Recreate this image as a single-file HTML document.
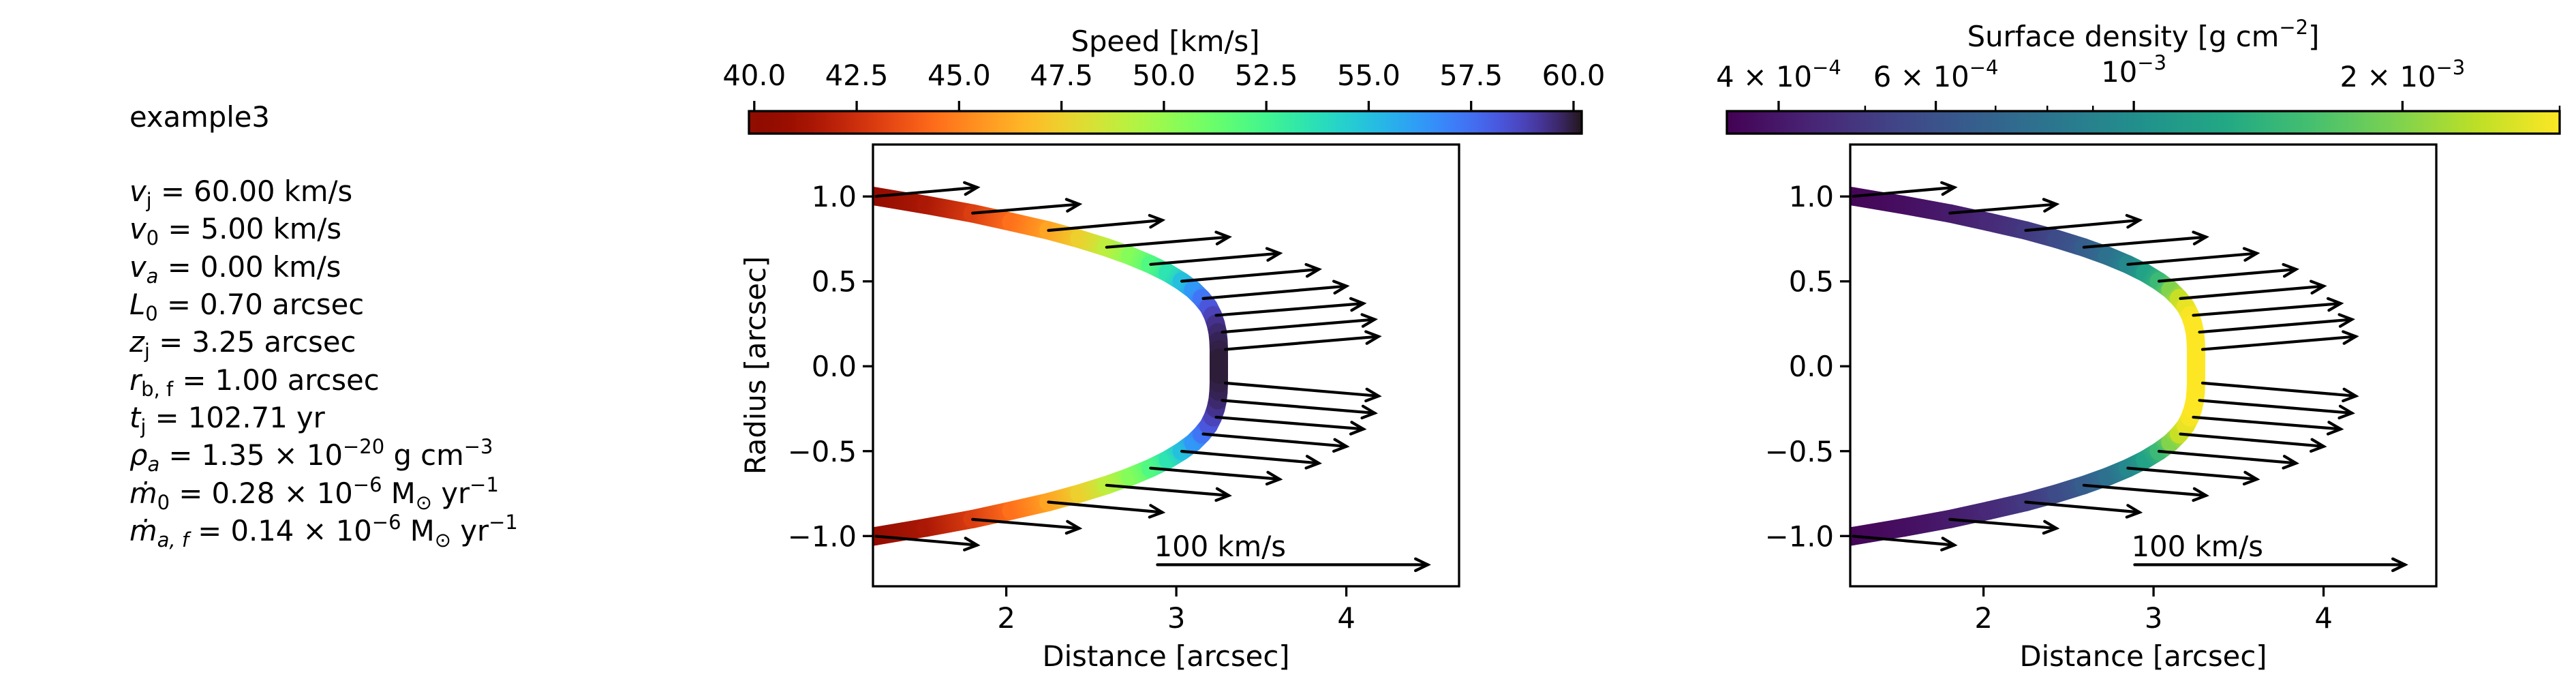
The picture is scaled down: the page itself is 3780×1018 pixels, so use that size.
<!DOCTYPE html>
<html><head><meta charset="utf-8">
<style>
html,body{margin:0;padding:0;background:#fff;}
svg text{font-family:"DejaVu Sans","Liberation Sans",sans-serif;font-size:41.7px;fill:#000;}
</style></head>
<body>
<svg id="fig" xmlns="http://www.w3.org/2000/svg" width="3780" height="1013" viewBox="0 0 3780 1013">
<rect width="3780" height="1013" fill="#fff"/>
<g>
<text x="190" y="186">example3</text>
<text x="190" y="295"><tspan font-style="italic">v</tspan><tspan font-size="29" dy="9">j</tspan><tspan dy="-9"> = 60.00 km/s</tspan></text>
<text x="190" y="350"><tspan font-style="italic">v</tspan><tspan font-size="29" dy="9">0</tspan><tspan dy="-9"> = 5.00 km/s</tspan></text>
<text x="190" y="406"><tspan font-style="italic">v</tspan><tspan font-size="29" font-style="italic" dy="9">a</tspan><tspan dy="-9"> = 0.00 km/s</tspan></text>
<text x="190" y="461"><tspan font-style="italic">L</tspan><tspan font-size="29" dy="9">0</tspan><tspan dy="-9"> = 0.70 arcsec</tspan></text>
<text x="190" y="516"><tspan font-style="italic">z</tspan><tspan font-size="29" dy="9">j</tspan><tspan dy="-9"> = 3.25 arcsec</tspan></text>
<text x="190" y="572"><tspan font-style="italic">r</tspan><tspan font-size="29" dy="9">b, f</tspan><tspan dy="-9"> = 1.00 arcsec</tspan></text>
<text x="190" y="627"><tspan font-style="italic">t</tspan><tspan font-size="29" dy="9">j</tspan><tspan dy="-9"> = 102.71 yr</tspan></text>
<text x="190" y="682"><tspan font-style="italic">ρ</tspan><tspan font-size="29" font-style="italic" dy="9">a</tspan><tspan dy="-9"> = 1.35 × 10</tspan><tspan font-size="29" dy="-17">−20</tspan><tspan dy="17"> g cm</tspan><tspan font-size="29" dy="-17">−3</tspan></text>
<text x="190" y="738"><tspan font-style="italic">ṁ</tspan><tspan font-size="29" dy="9">0</tspan><tspan dy="-9"> = 0.28 × 10</tspan><tspan font-size="29" dy="-17">−6</tspan><tspan dy="17"> M</tspan><tspan font-size="29" dy="9">⊙</tspan><tspan dy="-9"> yr</tspan><tspan font-size="29" dy="-17">−1</tspan></text>
<text x="190" y="793"><tspan font-style="italic">ṁ</tspan><tspan font-size="29" font-style="italic" dy="9">a, f</tspan><tspan dy="-9"> = 0.14 × 10</tspan><tspan font-size="29" dy="-17">−6</tspan><tspan dy="17"> M</tspan><tspan font-size="29" dy="9">⊙</tspan><tspan dy="-9"> yr</tspan><tspan font-size="29" dy="-17">−1</tspan></text>
</g>
</svg>
<script>
// ---- data ----
const curveR = [1.10,1.05,1.00,0.95,0.90,0.85,0.80,0.75,0.70,0.65,0.60,0.55,0.50,0.45,0.40,0.35,0.30,0.25,0.20,0.15,0.10,0.05,0.00];
const curveZ = [0.65,0.95,1.234,1.53,1.802,2.03,2.248,2.43,2.59,2.73,2.849,2.95,3.032,3.10,3.15,3.19,3.215,3.232,3.243,3.248,3.25,3.25,3.25];
const curveSpeed = [39,40,40.5,41.5,43,44.5,46,47.5,49,50.5,52,53.5,55,56.3,57.3,58.2,58.8,59.3,59.6,59.8,59.9,60,60];
const curveDensity = [3.4e-4,3.5e-4,3.6e-4,3.8e-4,4.1e-4,4.5e-4,5.0e-4,5.7e-4,6.6e-4,7.8e-4,9.5e-4,1.2e-3,1.5e-3,2.0e-3,2.5e-3,2.8e-3,2.95e-3,3.0e-3,3.0e-3,3.0e-3,3.0e-3,3.0e-3,3.0e-3];
const arrowZ = [1.234,1.802,2.248,2.590,2.849,3.032,3.158,3.234,3.270,3.288];
const arrowR = [1.001,0.902,0.800,0.701,0.600,0.501,0.399,0.300,0.201,0.099];
const arrowVz = [37.4,39.4,42.1,45.2,47.7,50.7,53.0,54.5,56.4,56.7];
const arrowVr = [3.3,3.3,3.8,3.8,4.1,4.4,4.6,4.4,4.7,4.8];
const keySpeed = 100;
const xTicks = [2,3,4];
const yTicks = [1.0,0.5,0.0,-0.5,-1.0];
const yTickLabels = ["1.0","0.5","0.0","\u22120.5","\u22121.0"];
const speedTicks = [40,42.5,45,47.5,50,52.5,55,57.5,60];
const speedTickLabels = ["40.0","42.5","45.0","47.5","50.0","52.5","55.0","57.5","60.0"];
const densMajorTicks = [4e-4,6e-4,1e-3,2e-3];
const densMajorLabelExp = ["\u22124","\u22124","\u22123","\u22123"];
const densMajorPre = ["4 \u00d7 10","6 \u00d7 10","10","2 \u00d7 10"];
const densMinorTicks = [5e-4,7e-4,8e-4,9e-4,3e-3];

// ---- geometry ----
const NS="http://www.w3.org/2000/svg";
const svg=document.getElementById('fig');
function mk(tag,attrs,parent){const e=document.createElementNS(NS,tag);for(const k in attrs)e.setAttribute(k,attrs[k]);(parent||svg).appendChild(e);return e;}
const X0=1.216,X1=4.663,Y0=-1.296,Y1=1.306;
const ARC_PER_KMS=1.59/100;

function turbo(x){x=Math.max(0,Math.min(1,x));
 const r=0.13572138+x*(4.61539260+x*(-42.66032258+x*(132.13108234+x*(-152.94239396+x*59.28637943))));
 const g=0.09140261+x*(2.19418839+x*(4.84296658+x*(-14.18503333+x*(4.27729857+x*2.82956604))));
 const b=0.10667330+x*(12.64194608+x*(-60.58204836+x*(110.36276771+x*(-89.90310912+x*27.34824973))));
 const c=v=>Math.round(255*Math.max(0,Math.min(1,v)));return `rgb(${c(r)},${c(g)},${c(b)})`;}
const VIR=[[68,1,84],[72,36,117],[65,68,135],[53,95,141],[42,120,142],[33,145,140],[34,168,132],[68,191,112],[122,209,81],[189,223,38],[253,231,37]];
function viridis(x){x=Math.max(0,Math.min(1,x));const f=x*10,i=Math.min(9,Math.floor(f)),t=f-i;
 const a=VIR[i],b=VIR[i+1];return `rgb(${Math.round(a[0]+(b[0]-a[0])*t)},${Math.round(a[1]+(b[1]-a[1])*t)},${Math.round(a[2]+(b[2]-a[2])*t)})`;}
const speedColor=v=>turbo(1-(v-39.87)/(60.2-39.87));
const DMIN=3.5e-4,DMAX=3.0e-3;
const densColor=d=>viridis((Math.log10(d)-Math.log10(DMIN))/(Math.log10(DMAX)-Math.log10(DMIN)));
let gradCount=0;

function panel(idx,left,colorFn,values,cbar){
 const L=left,R=left+860,T=212,B=860;
 const sx=v=>L+(v-X0)/(X1-X0)*(R-L);
 const sy=v=>B-(v-Y0)/(Y1-Y0)*(B-T);
 const g=mk('g',{});
 
 
 const defs=mk('defs',{},g);
 const clipId='clip'+idx;
 const cp=mk('clipPath',{id:clipId},defs);mk('rect',{x:L,y:T,width:R-L,height:B-T},cp);
 const shell=mk('g',{'clip-path':`url(#${clipId})`},g);
 
 
 for(const s of [1,-1]){
  for(let i=0;i<curveR.length-1;i++){
   const x1=sx(curveZ[i]),y1=sy(s*curveR[i]),x2=sx(curveZ[i+1]),y2=sy(s*curveR[i+1]);
   const id='sg'+(gradCount++);
   const lg=mk('linearGradient',{id:id,gradientUnits:'userSpaceOnUse',x1:x1,y1:y1,x2:x2,y2:y2},defs);
   mk('stop',{offset:0,'stop-color':colorFn(values[i])},lg);
   mk('stop',{offset:1,'stop-color':colorFn(values[i+1])},lg);
   const ln=mk('line',{x1:x1,y1:y1,x2:x2,y2:y2,stroke:`url(#${id})`,'stroke-width':27,'stroke-linecap':'round'},shell);
   
   
  }
 }
 function arrow(x1,y1,x2,y2,name){
  const a=mk('g',{stroke:'#000','stroke-width':4.2,fill:'none','stroke-linecap':'round'},g);
  
  
  mk('line',{x1,y1,x2,y2},a);
  const ang=Math.atan2(y2-y1,x2-x1),h=20,w=0.45;
  mk('polyline',{points:`${x2-h*Math.cos(ang-w)},${y2-h*Math.sin(ang-w)} ${x2},${y2} ${x2-h*Math.cos(ang+w)},${y2-h*Math.sin(ang+w)}`},a);
 }
 for(const s of [1,-1]){
  for(let i=0;i<arrowZ.length;i++){
   const z=arrowZ[i],r=s*arrowR[i];
   arrow(sx(z),sy(r),sx(z+arrowVz[i]*ARC_PER_KMS),sy(r+s*arrowVr[i]*ARC_PER_KMS),'velocity-arrow');
  }
 }
 arrow(sx(2.889),sy(-1.169),sx(2.889+keySpeed*ARC_PER_KMS),sy(-1.169),'key-arrow');
 const kt=mk('text',{x:sx(2.87),y:sy(-1.12)},g);kt.textContent='100 km/s';
 
 
 const fr=mk('rect',{x:L,y:T,width:R-L,height:B-T,fill:'none',stroke:'#000','stroke-width':3.3},g);
 
 
 xTicks.forEach(v=>{const x=sx(v);mk('line',{x1:x,y1:B,x2:x,y2:B+15,stroke:'#000','stroke-width':3.3},g);
  const t=mk('text',{x:x,y:921,'text-anchor':'middle'},g);t.textContent=String(v);
  
  });
 const xl=mk('text',{x:(L+R)/2,y:977,'text-anchor':'middle'},g);xl.textContent='Distance [arcsec]';
 
 
 yTicks.forEach((v,i)=>{const y=sy(v);mk('line',{x1:L,y1:y,x2:L-15,y2:y,stroke:'#000','stroke-width':3.3},g);
  const t=mk('text',{x:L-24,y:y+15,'text-anchor':'end'},g);t.textContent=yTickLabels[i];
  
  });
 if(idx===1){
  const yl=mk('text',{x:0,y:0,'text-anchor':'middle',transform:`translate(1123,${(T+B)/2}) rotate(-90)`},g);yl.textContent='Radius [arcsec]';
  
  
 }
 cbar(g,left);
}

function speedBar(g,left){
 const cx0=left-182,cx1=cx0+1222,T=163,B=196;
 const cb=mk('g',{},g);
 
 
 const gr=mk('linearGradient',{id:'gspeed',x1:0,x2:1,y1:0,y2:0},cb);
 for(let i=0;i<=40;i++){const v=39.87+(60.2-39.87)*i/40;mk('stop',{offset:i/40,'stop-color':speedColor(v)},gr);}
 mk('rect',{x:cx0,y:T,width:cx1-cx0,height:B-T,fill:'url(#gspeed)',stroke:'#000','stroke-width':3.3},cb);
 const sxc=v=>cx0+(v-39.87)/(60.2-39.87)*(cx1-cx0);
 speedTicks.forEach((v,i)=>{const x=sxc(v);mk('line',{x1:x,y1:T,x2:x,y2:T-15,stroke:'#000','stroke-width':3.3},cb);
  const t=mk('text',{x:x,y:125,'text-anchor':'middle'},cb);t.textContent=speedTickLabels[i];
  
  });
 const tt=mk('text',{x:(cx0+cx1)/2,y:75,'text-anchor':'middle'},cb);tt.textContent='Speed [km/s]';
 
 
}
function densBar(g,left){
 const cx0=left-181,cx1=cx0+1222,T=163,B=196;
 const cb=mk('g',{},g);
 
 
 const gr=mk('linearGradient',{id:'gdens',x1:0,x2:1,y1:0,y2:0},cb);
 for(let i=0;i<=40;i++){mk('stop',{offset:i/40,'stop-color':viridis(i/40)},gr);}
 mk('rect',{x:cx0,y:T,width:cx1-cx0,height:B-T,fill:'url(#gdens)',stroke:'#000','stroke-width':3.3},cb);
 const sxc=d=>cx0+(Math.log10(d)-Math.log10(DMIN))/(Math.log10(DMAX)-Math.log10(DMIN))*(cx1-cx0);
 densMinorTicks.forEach(d=>{const x=sxc(d);mk('line',{x1:x,y1:T,x2:x,y2:T-8,stroke:'#000','stroke-width':2.5},cb);});
 densMajorTicks.forEach((d,i)=>{const x=sxc(d);mk('line',{x1:x,y1:T,x2:x,y2:T-15,stroke:'#000','stroke-width':3.3},cb);
  const t=mk('text',{x:x,y:i===2?120:127,'text-anchor':'middle'},cb);
  
  
  const a=mk('tspan',{},t);a.textContent=densMajorPre[i];
  const b=mk('tspan',{dy:-18,'font-size':29},t);b.textContent=densMajorLabelExp[i];});
 const tt=mk('text',{x:(cx0+cx1)/2,y:68,'text-anchor':'middle'},cb);
 
 
 const a=mk('tspan',{},tt);a.textContent='Surface density [g cm';
 const b=mk('tspan',{dy:-18,'font-size':29},tt);b.textContent='\u22122';
 const c=mk('tspan',{dy:18},tt);c.textContent=']';
}
panel(1,1281,speedColor,curveSpeed,speedBar);
panel(2,2715,densColor,curveDensity,densBar);
</script>
</body></html>
